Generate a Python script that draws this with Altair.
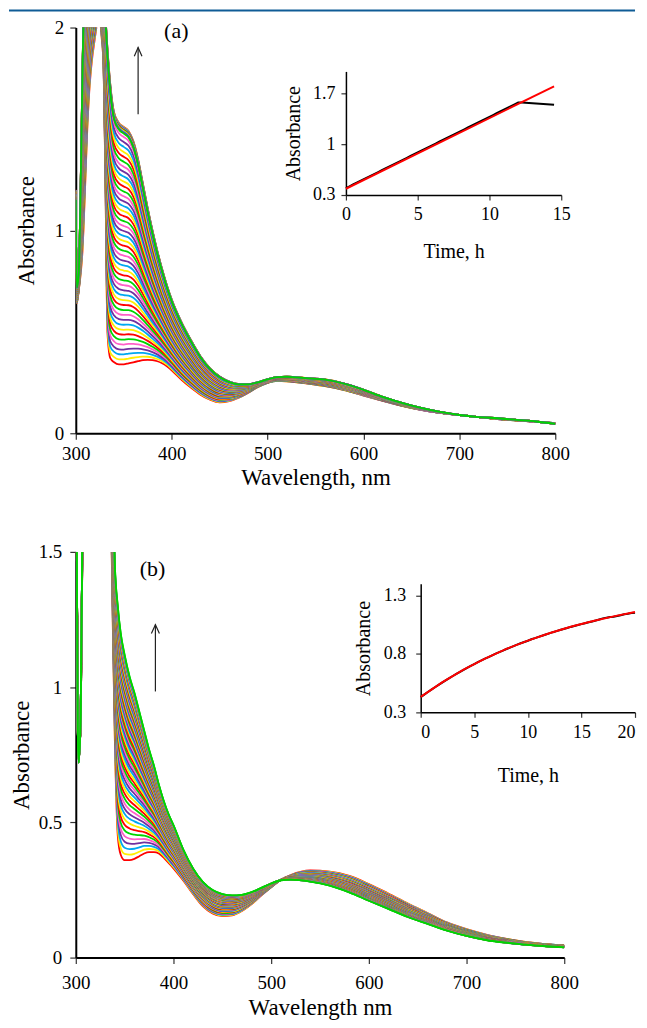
import altair as alt
import pandas as pd

FONT = "Liberation Serif"

# ---------------- Panel (a) ----------------
wl_a = [300, 301, 303, 305, 307, 308, 310, 312, 314, 316,
        320, 324, 327, 329, 331, 333, 336, 340, 345, 350,
        355, 360, 365, 370, 375, 380, 385, 390, 395, 400,
        410, 420, 430, 440, 450, 460, 470, 480, 490, 500,
        510, 520, 540, 560, 580, 600, 620, 640, 660, 680,
        700, 720, 740, 760, 780, 800]
first_a = [1.20, 0.64, 0.70, 0.78, 0.90, 1.00, 1.25, 1.50, 1.68, 1.80,
           1.95, 2.05, 1.95, 1.80, 1.20, 0.50, 0.37, 0.35, 0.34, 0.34,
           0.345, 0.35, 0.355, 0.36, 0.362, 0.36, 0.355, 0.345, 0.33, 0.31,
           0.265, 0.225, 0.19, 0.165, 0.152, 0.158, 0.175, 0.20, 0.228, 0.248,
           0.258, 0.256, 0.246, 0.232, 0.212, 0.186, 0.16, 0.135, 0.115, 0.10,
           0.09, 0.08, 0.07, 0.063, 0.057, 0.05]
last_a = [1.15, 0.72, 0.78, 1.20, 1.80, 2.05, 2.25, 2.35, 2.40, 2.40,
          2.40, 2.35, 2.25, 2.15, 2.05, 1.90, 1.72, 1.58, 1.53, 1.51,
          1.49, 1.44, 1.35, 1.23, 1.11, 1.00, 0.90, 0.81, 0.73, 0.66,
          0.55, 0.46, 0.38, 0.32, 0.28, 0.255, 0.243, 0.242, 0.252, 0.266,
          0.277, 0.279, 0.272, 0.265, 0.245, 0.215, 0.18, 0.15, 0.125, 0.105,
          0.09, 0.08, 0.074, 0.066, 0.058, 0.046]
time_a = [0, 0.25, 0.5, 0.75, 1, 1.25, 1.5, 1.75, 2, 2.25, 2.5, 2.75, 3, 3.25, 3.5, 3.75,
          4, 4.25, 4.5, 4.75, 5, 5.25, 5.5, 5.75, 6, 6.25, 6.5, 6.75, 7, 7.25, 7.5, 7.75,
          8, 8.25, 8.5, 8.75, 9, 9.25, 9.5, 9.75, 10, 10.25, 10.5, 10.75, 11, 11.25, 11.5,
          11.75, 12, 12.25, 12.5, 12.75, 13, 13.25, 13.5, 13.75, 14, 14.25, 14.5]
kin_a = [0.396, 0.420, 0.445, 0.469, 0.494, 0.518, 0.543, 0.567, 0.592, 0.616, 0.641,
         0.665, 0.690, 0.714, 0.739, 0.763, 0.788, 0.812, 0.837, 0.861, 0.886, 0.910,
         0.935, 0.959, 0.984, 1.008, 1.033, 1.057, 1.082, 1.106, 1.131, 1.155, 1.180,
         1.204, 1.229, 1.253, 1.278, 1.302, 1.327, 1.351, 1.376, 1.400, 1.425, 1.449,
         1.474, 1.498, 1.523, 1.548, 1.573, 1.571, 1.568, 1.565, 1.562, 1.559, 1.555,
         1.552, 1.548, 1.544, 1.540]
fit_a_t = [0, 14.5]
fit_a_abs = [0.386, 1.795]
arrow_a = {"seg": [0, 0, 1, 1, 1], "k": [0, 1, 0, 1, 2],
           "wl": [365, 365, 361, 365, 369], "A": [1.572, 1.902, 1.858, 1.902, 1.858]}
label_a = {"wl": [404.8], "A": [1.985], "lab": ["(a)"]}

# ---------------- Panel (b) ----------------
wl_b = [300, 302, 303, 305, 307, 310, 320, 330, 335, 338,
        340, 343, 346, 350, 355, 360, 365, 370, 375, 380,
        385, 390, 395, 400, 410, 420, 430, 440, 450, 460,
        470, 480, 490, 500, 510, 520, 540, 560, 580, 600,
        620, 640, 660, 680, 700, 720, 740, 760, 780, 800]
first_b = [2.2, 0.90, 0.76, 0.85, 1.60, 2.5, 3.0, 2.6, 1.9, 1.2,
           0.80, 0.45, 0.38, 0.36, 0.36, 0.365, 0.375, 0.385, 0.39, 0.39,
           0.385, 0.37, 0.35, 0.33, 0.285, 0.235, 0.19, 0.163, 0.153, 0.156,
           0.172, 0.198, 0.23, 0.26, 0.288, 0.305, 0.322, 0.318, 0.302, 0.272,
           0.237, 0.20, 0.165, 0.13, 0.105, 0.085, 0.07, 0.058, 0.05, 0.045]
last_b = [2.2, 0.85, 0.72, 0.90, 1.70, 2.6, 3.0, 2.6, 2.1, 1.70,
          1.45, 1.30, 1.20, 1.12, 1.04, 0.98, 0.91, 0.84, 0.77, 0.71,
          0.64, 0.58, 0.53, 0.49, 0.40, 0.33, 0.28, 0.25, 0.235, 0.23,
          0.232, 0.242, 0.258, 0.274, 0.286, 0.288, 0.281, 0.266, 0.241, 0.21,
          0.18, 0.15, 0.125, 0.10, 0.08, 0.065, 0.055, 0.048, 0.042, 0.038]
time_b = [0, 0.33, 0.67, 1, 1.33, 1.67, 2, 2.33, 2.67, 3, 3.33, 3.67, 4, 4.33, 4.67,
          5, 5.33, 5.67, 6, 6.33, 6.67, 7, 7.33, 7.67, 8, 8.33, 8.67, 9, 9.33, 9.67,
          10, 10.33, 10.67, 11, 11.33, 11.67, 12, 12.33, 12.67, 13, 13.33, 13.67, 14,
          14.33, 14.67, 15, 15.33, 15.67, 16, 16.33, 16.67, 17, 17.33, 17.67, 18, 18.33,
          18.67, 19, 19.33, 19.67, 20]
kin_b = [0.430, 0.452, 0.474, 0.495, 0.515, 0.535, 0.555, 0.574, 0.593, 0.611, 0.629,
         0.647, 0.664, 0.681, 0.697, 0.713, 0.729, 0.744, 0.759, 0.773, 0.788, 0.802,
         0.815, 0.828, 0.842, 0.854, 0.867, 0.879, 0.891, 0.902, 0.913, 0.925, 0.935,
         0.946, 0.956, 0.966, 0.976, 0.986, 0.995, 1.004, 1.013, 1.022, 1.031, 1.039,
         1.047, 1.055, 1.063, 1.071, 1.078, 1.086, 1.095, 1.104, 1.110, 1.115, 1.118,
         1.124, 1.131, 1.139, 1.144, 1.150, 1.153]
fit_b_t = [0, 2, 4, 6, 8, 10, 12, 14, 16, 18, 20]
fit_b_abs = [0.432, 0.556, 0.665, 0.760, 0.843, 0.914, 0.977, 1.032, 1.079, 1.121, 1.158]
arrow_b = {"seg": [0, 0, 1, 1, 1], "k": [0, 1, 0, 1, 2],
           "wl": [381.5, 381.5, 377.4, 381.5, 385.6], "A": [0.984, 1.231, 1.198, 1.231, 1.198]}
label_b = {"wl": [378.6], "A": [1.437], "lab": ["(b)"]}

palette = ["#ff0000", "#ffee00", "#00a8f0", "#7030a0", "#ff5fc8", "#00d400"]
final_colour = "#00d400"


def spectra_table(wl, first, last, kin):
    lo = kin[0]
    hi = max(kin)
    rows = []
    n = len(kin)
    for i, a in enumerate(kin):
        f = (a - lo) / (hi - lo)
        col = final_colour if i == n - 1 else palette[i % len(palette)]
        for w, s, e in zip(wl, first, last):
            rows.append({"cid": i, "col": col, "wl": w, "A": s + f * (e - s)})
    return pd.DataFrame(rows)


def axis_main(**kw):
    base = dict(domainColor="black", domainWidth=2, tickColor="#333", tickWidth=1.2,
                tickSize=6, labelFont=FONT, labelFontSize=19, labelColor="black",
                titleFont=FONT, titleFontSize=23, titleFontWeight="normal",
                titleColor="black", grid=False)
    base.update(kw)
    return alt.Axis(**base)


def axis_inset(**kw):
    base = dict(domainColor="black", domainWidth=1.5, tickColor="#333", tickWidth=1.2,
                tickSize=5, labelFont=FONT, labelFontSize=18, labelColor="black",
                titleFont=FONT, titleFontSize=20, titleFontWeight="normal",
                titleColor="black", grid=False)
    base.update(kw)
    return alt.Axis(**base)


def panel(wl, first, last, kin, t, fit_t, fit_abs, arrow, label, ymax, yticks,
          width, xtitle, x_lab_pad, x_title_pad, y_lab_pad, y_title_pad,
          ins_dom_x, ins_dom_y, ins_xr, ins_yr, ins_xticks, ins_yticks,
          ins_x_lab_pad, ins_x_title_pad, ins_y_lab_pad, ins_y_title_pad,
          ins_flush, blue_line):
    height = 407
    spec = alt.Chart(spectra_table(wl, first, last, kin)).mark_line(
        clip=True, strokeWidth=1.8, interpolate="monotone").encode(
        x=alt.X("wl:Q", scale=alt.Scale(domain=[300, 800], nice=False),
                axis=axis_main(values=[300, 400, 500, 600, 700, 800], title=xtitle,
                               labelPadding=x_lab_pad, titlePadding=x_title_pad,
                               labelFlush=False)),
        y=alt.Y("A:Q", scale=alt.Scale(domain=[0, ymax], nice=False, zero=False),
                axis=axis_main(values=yticks, format="~g", title="Absorbance",
                               labelPadding=y_lab_pad, titlePadding=y_title_pad)),
        color=alt.Color("col:N", scale=None),
        detail="cid:N",
    )
    arr = alt.Chart(pd.DataFrame(arrow)).mark_line(color="#222", strokeWidth=1.2).encode(
        x="wl:Q", y="A:Q", detail="seg:N", order="k:Q")
    txt = alt.Chart(pd.DataFrame(label)).mark_text(
        font=FONT, fontSize=22, align="center", baseline="middle", color="black").encode(
        x="wl:Q", y="A:Q", text="lab:N")
    layers = [spec, arr, txt]
    if blue_line:
        rule = alt.Chart(pd.DataFrame({"d": [0]})).mark_rule(
            color="#0f5c96", strokeWidth=2).encode(
            x=alt.value(-67), x2=alt.value(561), y=alt.value(-17))
        layers.append(rule)
    main = alt.layer(*layers)

    kin_df = pd.DataFrame({"t": t, "abs": kin})
    fit_df = pd.DataFrame({"t": fit_t, "abs": fit_abs})
    ix = alt.X("t:Q", scale=alt.Scale(domain=ins_dom_x, range=ins_xr, nice=False, zero=False),
               axis=axis_inset(orient="bottom", offset=ins_yr[0] - height,
                               values=ins_xticks, title="Time, h",
                               labelPadding=ins_x_lab_pad, titlePadding=ins_x_title_pad,
                               labelFlush=ins_flush))
    iy = alt.Y("abs:Q", scale=alt.Scale(domain=ins_dom_y, range=ins_yr, nice=False, zero=False),
               axis=axis_inset(orient="left", offset=-ins_xr[0], values=ins_yticks,
                               format="~g", title="Absorbance",
                               labelPadding=ins_y_lab_pad, titlePadding=ins_y_title_pad))
    black = alt.Chart(kin_df).mark_line(color="black", strokeWidth=2).encode(x=ix, y=iy)
    red = alt.Chart(fit_df).mark_line(color="#ff0000", strokeWidth=2).encode(
        x=alt.X("t:Q"), y=alt.Y("abs:Q"))
    inset = alt.layer(black, red)

    return alt.layer(main, inset).resolve_scale(x="independent", y="independent").properties(
        width=width, height=height)


panel_a = panel(wl_a, first_a, last_a, kin_a, time_a, fit_a_t, fit_a_abs, arrow_a, label_a,
                2, [0, 1, 2], 481, "Wavelength, nm", 5, 3, 6, 16,
                [0, 15], [0.3, 2.0], [271, 487], [168, 44], [0, 5, 10, 15], [0.3, 1.0, 1.7],
                6, 18, 6, 9, False, True)
panel_b = panel(wl_b, first_b, last_b, kin_b, time_b, fit_b_t, fit_b_abs, arrow_b, label_b,
                1.5, [0, 0.5, 1, 1.5], 490, "Wavelength  nm", 10, 4, 8, 5,
                [0, 20], [0.3, 1.4], [346, 561], [161, 32], [0, 5, 10, 15, 20], [0.3, 0.8, 1.3],
                6, 24, 10, 10, True, False)

chart = alt.vconcat(
    panel_a, panel_b, spacing=54, padding=0,
    autosize=alt.AutoSizeParams(type="pad"),
).configure(padding=0).configure_view(strokeWidth=0)

chart.save("out.html", embed_options={"renderer": "svg", "actions": False})
